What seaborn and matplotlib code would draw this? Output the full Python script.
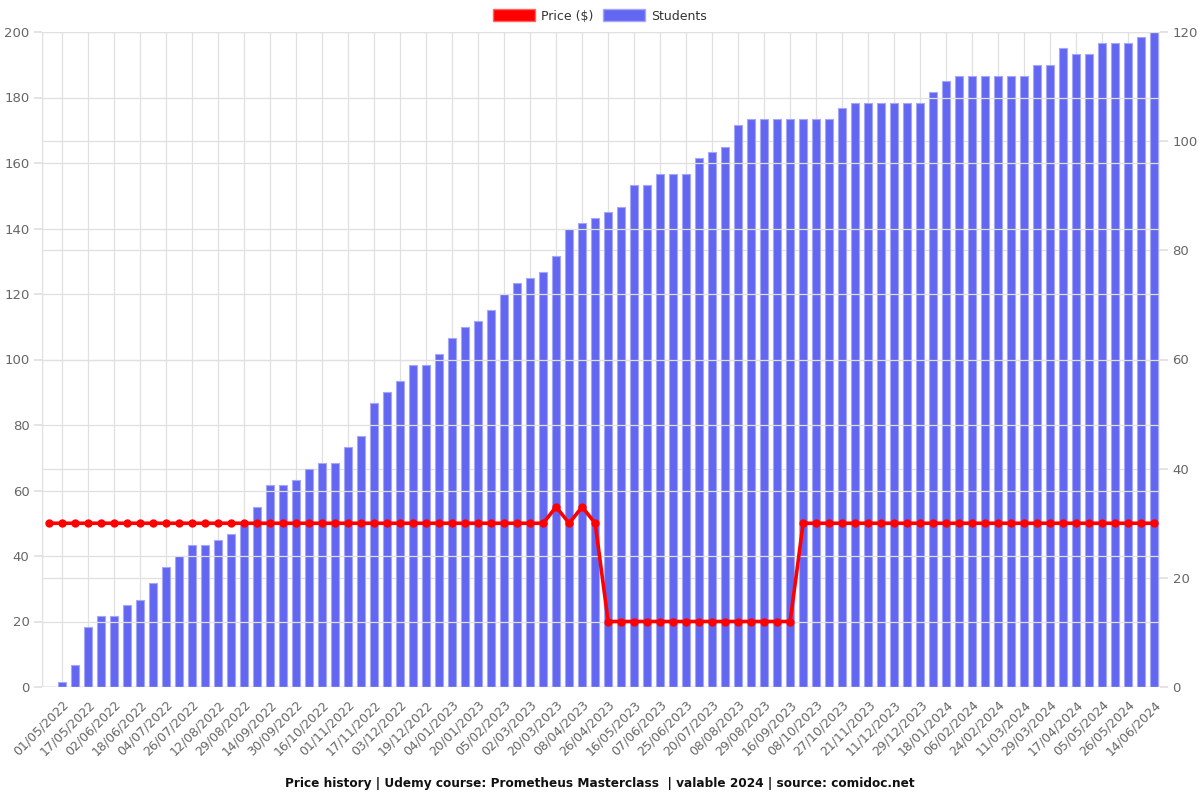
import matplotlib
matplotlib.use("Agg")
import matplotlib.pyplot as plt
from matplotlib.patches import Patch
import seaborn as sns
import pandas as pd
import numpy as np

# ---- data ----
students = [0, 1, 4, 11, 13, 13, 15, 16, 19, 22, 24, 26, 26, 27, 28, 30, 33, 37, 37, 38,
            40, 41, 41, 44, 46, 52, 54, 56, 59, 59, 61, 64, 66, 67, 69, 72, 74, 75, 76, 79,
            84, 85, 86, 87, 88, 92, 92, 94, 94, 94, 97, 98, 99, 103, 104, 104, 104, 104, 104, 104,
            104, 106, 107, 107, 107, 107, 107, 107, 109, 111, 112, 112, 112, 112, 112, 112, 114, 114, 117, 116,
            116, 118, 118, 118, 119, 120]
price = [50] * 39 + [55, 50, 55, 50] + [20] * 15 + [50] * 28
tick_labels = ["01/05/2022", "17/05/2022", "02/06/2022", "18/06/2022", "04/07/2022", "26/07/2022",
               "12/08/2022", "29/08/2022", "14/09/2022", "30/09/2022", "16/10/2022", "01/11/2022",
               "17/11/2022", "03/12/2022", "19/12/2022", "04/01/2023", "20/01/2023", "05/02/2023",
               "02/03/2023", "20/03/2023", "08/04/2023", "26/04/2023", "16/05/2023", "07/06/2023",
               "25/06/2023", "20/07/2023", "08/08/2023", "29/08/2023", "16/09/2023", "08/10/2023",
               "27/10/2023", "21/11/2023", "11/12/2023", "29/12/2023", "18/01/2024", "06/02/2024",
               "24/02/2024", "11/03/2024", "29/03/2024", "17/04/2024", "05/05/2024", "26/05/2024",
               "14/06/2024"]
title = "Price history | Udemy course: Prometheus Masterclass  | valable 2024 | source: comidoc.net"

n = len(students)
df = pd.DataFrame({"idx": np.arange(n), "students": students, "price": price})

sns.set_theme(style="white")
plt.rcParams["font.family"] = ["DejaVu Sans"]

BAR = "#6366f1"
GRID = "#e0e0e0"
TXT = "#666666"

fig = plt.figure(figsize=(12, 8), dpi=100)
ax = fig.add_axes([42 / 1200, 1 - 687 / 800, (1160 - 42) / 1200, (687 - 32) / 800])
ax2 = ax.twinx()

# students bars on the base axes, shown with right-side scale
sns.barplot(data=df, x="idx", y="students", ax=ax, color=BAR, saturation=1,
            width=0.62, edgecolor="#a5a7f7", linewidth=0.8, zorder=2)
ax.set_ylim(0, 120)
ax.set_yticks(np.arange(0, 121, 20))

sns.lineplot(data=df, x="idx", y="price", ax=ax2, color="#ff0000", linewidth=2.6,
             marker="o", markersize=6, markeredgewidth=0, zorder=5)
ax2.set_ylim(0, 200)
ax2.set_yticks(np.arange(0, 201, 20))

ax.yaxis.tick_right()
ax.yaxis.set_label_position("right")
ax2.yaxis.tick_left()
ax2.yaxis.set_label_position("left")

for a in (ax, ax2):
    a.set_xlim(-0.55, n - 0.55)
    a.set_xlabel("")
    a.set_ylabel("")
    for s in a.spines.values():
        s.set_visible(False)

ax.set_xticks(np.arange(1, n, 2))
ax.set_xticklabels(tick_labels, rotation=45, ha="right", rotation_mode="anchor",
                   fontsize=9, color=TXT)
ax.tick_params(axis="x", length=6, color=GRID, pad=2)
ax.tick_params(axis="y", length=6, color=GRID, labelsize=9.5, labelcolor=TXT, pad=3)
ax2.tick_params(axis="y", length=6, color=GRID, labelsize=9.5, labelcolor=TXT, pad=3)

ax.grid(True, axis="both", color=GRID, linewidth=0.9, zorder=0)
ax.set_axisbelow(True)
ax2.grid(True, axis="y", color=GRID, linewidth=0.9)
ax2.set_axisbelow(True)

ax.axhline(0, color="#cccccc", linewidth=1, zorder=1)
ax.axvline(ax.get_xlim()[1], color="#cccccc", linewidth=1)
ax.axvline(ax.get_xlim()[0], color="#e0e0e0", linewidth=1)

handles = [Patch(facecolor="#ff0000", edgecolor="#ff6666", label="Price ($)"),
           Patch(facecolor=BAR, edgecolor="#a5a7f7", label="Students")]
fig.legend(handles=handles, loc="center", bbox_to_anchor=(0.5, 1 - 16 / 800),
           ncol=2, frameon=False, fontsize=9, handlelength=3.3, handleheight=1.1,
           columnspacing=0.8, handletextpad=0.5)
for t in fig.legends[0].get_texts():
    t.set_color("#333333")

fig.text(0.5, 1 - 783 / 800, title, ha="center", va="center", fontsize=8.7,
         fontweight="bold", color="#111111")

fig.savefig("out.png", dpi=100)
